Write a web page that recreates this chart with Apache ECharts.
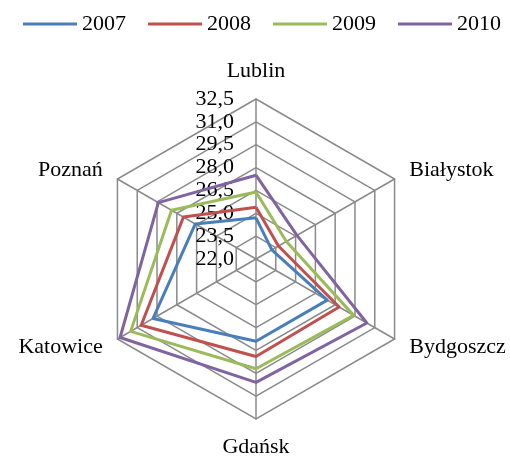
<!DOCTYPE html>
<html>
<head>
<meta charset="utf-8">
<script src="https://cdn.jsdelivr.net/npm/echarts@6/dist/echarts.min.js"></script>
<style>
html, body { margin: 0; padding: 0; background: #fff; }
#chart { width: 510px; height: 457px; }
</style>
</head>
<body>
<div id="chart"></div>
<script>
// miasta w kolejnosci zgodnej z ruchem wskazowek zegara, od gory
var cities = ['Lublin', 'Białystok', 'Bydgoszcz', 'Gdańsk', 'Katowice', 'Poznań'];
var years = ['2007', '2008', '2009', '2010'];
var v2007 = [24.7, 23.2, 27.4, 27.4, 29.8, 26.6];
var v2008 = [25.4, 23.7, 28.3, 28.4, 30.7, 27.5];
var v2009 = [26.4, 24.3, 29.4, 29.2, 31.5, 28.4];
var v2010 = [27.5, 25.1, 30.4, 30.1, 32.3, 29.4];
var tickLabels = ['22,0', '23,5', '25,0', '26,5', '28,0', '29,5', '31,0', '32,5'];
var colors = ['#4a7ebb', '#c0504d', '#9bbb59', '#8064a2'];

var font = 'Liberation Serif';
var gray = '#8a8a8a';
var axisMin = 22, axisMax = 32.5;

// echarts radar idzie przeciwnie do wskazowek zegara
var order = [0, 5, 4, 3, 2, 1];
function reorder(arr) {
    return order.map(function (i) { return arr[i]; });
}

var indicator = reorder(cities).map(function (c, i) {
    var ind = { name: c, min: axisMin, max: axisMax };
    if (i === 0) {
        ind.axisLabel = {
            show: true,
            margin: 22,
            color: '#000',
            fontSize: 22,
            fontFamily: font,
            formatter: function (v) {
                var k = Math.round((v - axisMin) / 1.5);
                return tickLabels[k];
            }
        };
    }
    return ind;
});

var allValues = [v2007, v2008, v2009, v2010];

var chart = echarts.init(document.getElementById('chart'));
chart.setOption({
    backgroundColor: '#fff',
    animation: false,
    color: colors,
    legend: {
        data: years,
        top: 8,
        left: 18,
        width: 490,
        icon: 'rect',
        itemWidth: 54,
        itemHeight: 3,
        itemGap: 22,
        textStyle: { color: '#000', fontSize: 22, fontFamily: font }
    },
    radar: {
        center: [256, 259],
        radius: 160,
        startAngle: 90,
        shape: 'polygon',
        splitNumber: 7,
        indicator: indicator,
        axisName: { color: '#000', fontSize: 22, fontFamily: font },
        nameGap: 17,
        axisLine: { lineStyle: { color: gray, width: 1.5 } },
        splitLine: { lineStyle: { color: gray, width: 1.5 } },
        splitArea: { show: false },
        axisTick: { show: false },
        axisLabel: { show: false }
    },
    series: [{
        type: 'radar',
        symbol: 'none',
        data: years.map(function (y, i) {
            return {
                name: y,
                value: reorder(allValues[i]),
                lineStyle: { color: colors[i], width: 3 },
                itemStyle: { color: colors[i] }
            };
        })
    }]
});
</script>
</body>
</html>
